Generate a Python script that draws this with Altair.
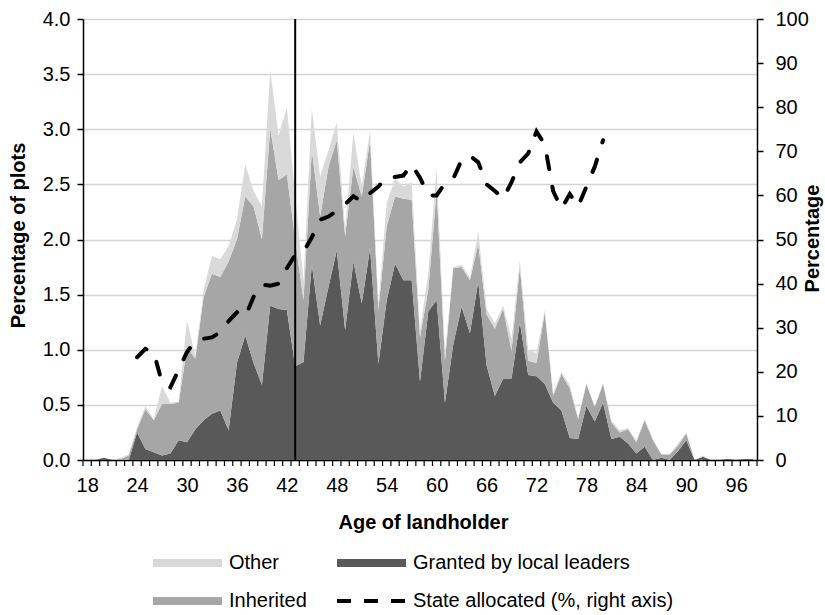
import altair as alt
import pandas as pd

# ---------------- data ----------------
ages = list(range(18, 99))
granted = [0.00, 0.00, 0.02, 0.00, 0.00, 0.00, 0.25, 0.10, 0.07, 0.04,
           0.06, 0.18, 0.16, 0.28, 0.36, 0.42, 0.45, 0.27, 0.88, 1.13,
           0.88, 0.68, 1.40, 1.37, 1.36, 0.85, 0.89, 1.77, 1.22, 1.57,
           1.90, 1.18, 1.80, 1.42, 1.92, 0.87, 1.45, 1.78, 1.63, 1.63,
           0.71, 1.35, 1.45, 0.52, 1.05, 1.39, 1.15, 1.62, 0.86, 0.58,
           0.74, 0.74, 1.25, 0.77, 0.76, 0.69, 0.52, 0.45, 0.20, 0.19,
           0.49, 0.35, 0.52, 0.19, 0.21, 0.15, 0.06, 0.12, 0.00, 0.02,
           0.00, 0.08, 0.18, 0.00, 0.03, 0.00, 0.00, 0.01, 0.00, 0.01,
           0.01]
inherited = [0.00, 0.00, 0.00, 0.00, 0.01, 0.04, 0.03, 0.36, 0.29, 0.47,
             0.45, 0.34, 0.86, 0.64, 1.12, 1.27, 1.21, 1.53, 1.12, 1.26,
             1.42, 1.32, 1.61, 1.17, 1.23, 1.15, 0.56, 1.04, 0.99, 1.09,
             1.00, 0.85, 0.86, 0.97, 0.98, 0.49, 0.67, 0.61, 0.74, 0.73,
             0.40, 0.20, 0.99, 0.38, 0.69, 0.36, 0.48, 0.34, 0.46, 0.61,
             0.63, 0.25, 0.50, 0.13, 0.12, 0.65, 0.06, 0.33, 0.45, 0.18,
             0.20, 0.13, 0.17, 0.15, 0.04, 0.13, 0.10, 0.24, 0.18, 0.03,
             0.05, 0.05, 0.06, 0.00, 0.00, 0.00, 0.00, 0.00, 0.00, 0.00,
             0.00]
other = [0.00, 0.00, 0.00, 0.00, 0.01, 0.01, 0.02, 0.03, 0.01, 0.16,
         0.01, 0.01, 0.25, 0.02, 0.06, 0.16, 0.16, 0.14, 0.18, 0.29,
         0.14, 0.30, 0.53, 0.40, 0.61, 0.40, 0.17, 0.38, 0.36, 0.15,
         0.16, 0.07, 0.31, 0.09, 0.09, 0.06, 0.21, 0.16, 0.11, 0.16,
         0.06, 0.15, 0.21, 0.07, 0.01, 0.02, 0.02, 0.11, 0.05, 0.05,
         0.03, 0.11, 0.06, 0.10, 0.09, 0.02, 0.02, 0.02, 0.03, 0.02,
         0.01, 0.00, 0.01, 0.02, 0.02, 0.01, 0.02, 0.01, 0.01, 0.00,
         0.00, 0.02, 0.01, 0.00, 0.01, 0.00, 0.00, 0.00, 0.00, 0.00,
         0.00]

line_ages = list(range(24, 81))
state_allocated = [23.3, 25.2, 24.5, 17.5, 16.5, 20.5, 24.5, 27.0, 27.5, 27.8,
                   29.0, 31.5, 33.5, 32.5, 37.0, 39.8, 39.5, 40.0, 43.5, 46.5,
                   47.2, 50.5, 54.5, 55.2, 56.5, 58.0, 59.8, 58.6, 60.5, 62.0,
                   64.2, 64.2, 64.5, 67.0, 64.0, 60.0, 60.0, 62.8, 63.8, 68.0,
                   69.0, 67.5, 62.5, 61.0, 59.3, 63.0, 67.5, 69.5, 74.5, 71.5,
                   61.0, 57.0, 60.3, 57.5, 62.0, 66.5, 72.5]

cut_age = [43]
x_label_values = list(range(18, 97, 6))
left_tick_values = [0.0, 0.5, 1.0, 1.5, 2.0, 2.5, 3.0, 3.5, 4.0]
right_tick_values = list(range(0, 101, 10))
category_edges = [a - 0.5 for a in ages] + [ages[-1] + 0.5]

series_names = ["Granted by local leaders", "Inherited", "Other"]
series_colors = ["#595959", "#a6a6a6", "#d9d9d9"]

# ---------------- tables ----------------
rows = []
for i, a in enumerate(ages):
    for k, vals in enumerate([granted, inherited, other]):
        rows.append({"age": a, "series": series_names[k], "value": vals[i], "ord": k})
area_df = pd.DataFrame(rows)
line_df = pd.DataFrame({"age": line_ages, "pct": state_allocated})
cut_df = pd.DataFrame({"age": cut_age})
edge_df = pd.DataFrame({"age": category_edges})

W, H = 674, 441
FONT = "Liberation Sans"
FS = 20
TFS = 20
xscale = alt.Scale(domain=[17.5, 98.5], nice=False, zero=False)
xaxis = alt.Axis(values=x_label_values, ticks=False, grid=False,
                 domainColor="black", domainWidth=1.5,
                 labelFontSize=FS, labelPadding=15,
                 titleFontSize=TFS, titleFontWeight="bold",
                 titleX=W / 2 + 3, titleY=62, titleBaseline="middle",
                 titleAlign="center")


def xenc():
    return alt.X("age:Q", scale=xscale, axis=xaxis, title="Age of landholder")


areas = alt.Chart(area_df).mark_area(opacity=1).encode(
    x=xenc(),
    y=alt.Y("value:Q", stack="zero",
            scale=alt.Scale(domain=[0, 4], nice=False),
            axis=alt.Axis(values=left_tick_values, format=".1f",
                          grid=True, gridColor="#d4d4d4", gridWidth=1.5,
                          domainColor="black", domainWidth=1.5,
                          tickColor="black", tickSize=6, tickWidth=1.5,
                          labelFontSize=FS, labelPadding=7,
                          title="Percentage of plots", titleFontSize=TFS,
                          titleFontWeight="bold", titleAngle=270,
                          titleX=-65, titleY=216, titleBaseline="middle",
                          titleAlign="center")),
    color=alt.Color("series:N",
                    scale=alt.Scale(domain=series_names, range=series_colors),
                    legend=None),
    order=alt.Order("ord:Q", sort="ascending"),
)

cut = alt.Chart(cut_df).mark_rule(color="black", strokeWidth=2).encode(x=xenc())

edge_ticks = alt.Chart(edge_df).mark_rule(color="black", strokeWidth=1.2).encode(
    x=xenc(),
    y=alt.value(H),
    y2=alt.value(H + 6),
)

line = alt.Chart(line_df).mark_line(
    color="black", strokeWidth=4, strokeDash=[13, 18], strokeCap="round"
).encode(
    x=xenc(),
    y=alt.Y("pct:Q", scale=alt.Scale(domain=[0, 100], nice=False),
            axis=alt.Axis(orient="right", values=right_tick_values, grid=False,
                          domainColor="black", domainWidth=1.5,
                          tickColor="black", tickSize=6, tickWidth=1.5,
                          labelFontSize=FS, labelPadding=12,
                          title="Percentage", titleFontSize=TFS,
                          titleFontWeight="bold", titleAngle=270,
                          titleX=55, titleY=219, titleBaseline="middle",
                          titleAlign="center")),
)

# ---------------- manual legend ----------------
legend_items = [
    ("Other", "#d9d9d9", 0, 0),
    ("Granted by local leaders", "#595959", 1, 0),
    ("Inherited", "#a6a6a6", 0, 1),
]
col_x = [70, 254]
row_y = [544, 582]
sw_w = 69
LFS = 20
legend_layers = []
for label, colr, c, r in legend_items:
    d = pd.DataFrame({"label": [label]})
    legend_layers.append(
        alt.Chart(d).mark_rect(color=colr).encode(
            x=alt.value(col_x[c]), x2=alt.value(col_x[c] + sw_w),
            y=alt.value(row_y[r] - 4), y2=alt.value(row_y[r] + 4))
    )
    legend_layers.append(
        alt.Chart(d).mark_text(align="left", baseline="middle", fontSize=LFS,
                               font=FONT, color="black").encode(
            x=alt.value(col_x[c] + sw_w + 7), y=alt.value(row_y[r]),
            text="label:N")
    )
d_line = pd.DataFrame({"label": ["State allocated (%, right axis)"]})
legend_layers.append(
    alt.Chart(d_line).mark_rule(color="black", strokeWidth=4,
                                strokeDash=[14, 13]).encode(
        x=alt.value(col_x[1]), x2=alt.value(col_x[1] + sw_w),
        y=alt.value(row_y[1]))
)
legend_layers.append(
    alt.Chart(d_line).mark_text(align="left", baseline="middle", fontSize=LFS,
                                font=FONT, color="black").encode(
        x=alt.value(col_x[1] + sw_w + 7), y=alt.value(row_y[1]),
        text="label:N")
)

chart = alt.layer(areas, cut, edge_ticks, line, *legend_layers).resolve_scale(
    y="independent"
).properties(
    width=W, height=H,
    autosize=alt.AutoSizeParams(type="none"),
    padding={"left": 83, "top": 19, "right": 68, "bottom": 155},
).configure(
    font=FONT, background="white"
).configure_view(
    stroke=None
).configure_axis(
    labelColor="black", titleColor="black", labelFont=FONT, titleFont=FONT
)

chart.save("out.html", embed_options={"renderer": "svg", "actions": False})
